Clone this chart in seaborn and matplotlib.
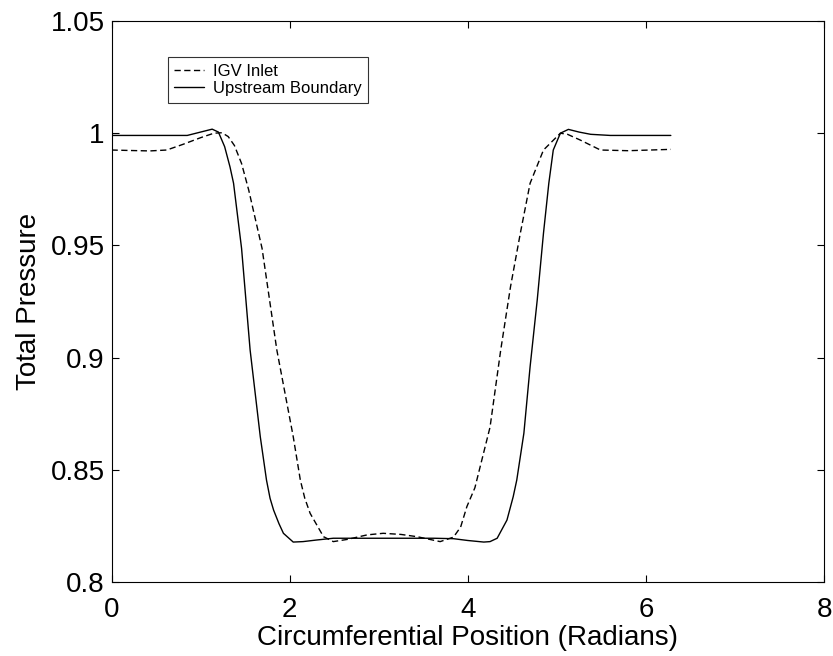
import numpy as np
import pandas as pd
import matplotlib
matplotlib.use("Agg")
import matplotlib.pyplot as plt
import seaborn as sns

# Upstream boundary (solid line)
upstream_x = [0.0, 0.3, 0.6, 0.85, 1.0, 1.13, 1.2, 1.27, 1.33, 1.37, 1.46, 1.556,
              1.67, 1.74, 1.78, 1.82, 1.88, 1.93, 2.04, 2.15, 2.3, 2.49, 2.8, 3.2,
              3.62, 3.84, 4.0, 4.18, 4.25, 4.33, 4.44, 4.51, 4.55, 4.63, 4.70, 4.78,
              4.85, 4.91, 4.96, 5.04, 5.13, 5.25, 5.38, 5.6, 6.0, 6.28]
upstream_p = [0.999, 0.999, 0.999, 0.999, 1.0005, 1.0018, 1.0005, 0.994, 0.985, 0.9777,
              0.9487, 0.9034, 0.8648, 0.8454, 0.8373, 0.8320, 0.8260, 0.8217, 0.8178,
              0.8180, 0.8187, 0.8195, 0.8195, 0.8195, 0.8195, 0.8193, 0.8185, 0.8178,
              0.8180, 0.8195, 0.8276, 0.8380, 0.8454, 0.8663, 0.8960, 0.9257, 0.9554,
              0.9777, 0.9925, 1.0000, 1.0017, 1.0005, 0.9995, 0.999, 0.999, 0.999]

# IGV inlet (dashed line)
igv_x = [0.0, 0.2, 0.43, 0.62, 0.8, 1.0, 1.15, 1.24, 1.31, 1.38, 1.46, 1.54, 1.69,
         1.856, 2.04, 2.12, 2.17, 2.23, 2.38, 2.49, 2.65, 2.87, 3.05, 3.25, 3.43,
         3.69, 3.84, 3.92, 3.99, 4.08, 4.25, 4.37, 4.48, 4.59, 4.70, 4.85, 5.04, 5.12,
         5.26, 5.49, 5.8, 6.05, 6.28]
igv_p = [0.9925, 0.9923, 0.9921, 0.9925, 0.995, 0.998, 1.0, 1.0002, 0.9985, 0.9945,
         0.9865, 0.9747, 0.9487, 0.9034, 0.8648, 0.8454, 0.8373, 0.8306, 0.8202, 0.818,
         0.819, 0.821, 0.8217, 0.8212, 0.8202, 0.818, 0.820, 0.8245, 0.8336, 0.842,
         0.869, 0.9034, 0.9316, 0.9554, 0.9777, 0.9925, 1.0, 0.9995, 0.997, 0.9925,
         0.9922, 0.9925, 0.9928]

x_ticks = [0, 2, 4, 6, 8]
y_ticks = [0.8, 0.85, 0.9, 0.95, 1.0, 1.05]
y_tick_labels = ["0.8", "0.85", "0.9", "0.95", "1", "1.05"]

igv_df = pd.DataFrame({"position": igv_x, "pressure": igv_p})
up_df = pd.DataFrame({"position": upstream_x, "pressure": upstream_p})

sns.set_style("ticks")
plt.rcParams["font.family"] = ["Liberation Sans", "DejaVu Sans"]
plt.rcParams["text.color"] = "black"
plt.rcParams["axes.labelcolor"] = "black"

fig = plt.figure(figsize=(8.33, 6.56), dpi=100)
ax = fig.add_axes([0.1339, 0.1128, 0.8553, 0.8552])

sns.lineplot(data=igv_df, x="position", y="pressure", ax=ax, color="black",
             linewidth=1.0, linestyle=(0, (4.5, 2.5)), label="IGV Inlet")
sns.lineplot(data=up_df, x="position", y="pressure", ax=ax, color="black",
             linewidth=1.0, label="Upstream Boundary")

ax.set_xlim(0, 8)
ax.set_ylim(0.8, 1.05)
ax.set_xticks(x_ticks)
ax.set_xticklabels([str(t) for t in x_ticks])
ax.set_yticks(y_ticks)
ax.set_yticklabels(y_tick_labels)
ax.tick_params(direction="in", top=True, right=True, length=5, width=0.8,
               labelsize=20, colors="black")
ax.tick_params(axis="x", pad=11)
ax.tick_params(axis="y", pad=5)
for s in ax.spines.values():
    s.set_linewidth(0.8)
    s.set_color("black")

ax.set_xlabel("Circumferential Position (Radians)", fontsize=20, labelpad=1)
ax.set_ylabel("Total Pressure", fontsize=20, labelpad=6)

leg = ax.legend(loc="upper left", bbox_to_anchor=(0.079, 0.936), borderaxespad=0,
                fontsize=12, frameon=True, fancybox=False, handlelength=1.8,
                handletextpad=0.5, borderpad=0.4, labelspacing=0.15)
leg.get_frame().set_edgecolor("black")
leg.get_frame().set_linewidth(0.8)
for t in leg.get_texts():
    t.set_color("black")

fig.savefig("out.png", dpi=100)
